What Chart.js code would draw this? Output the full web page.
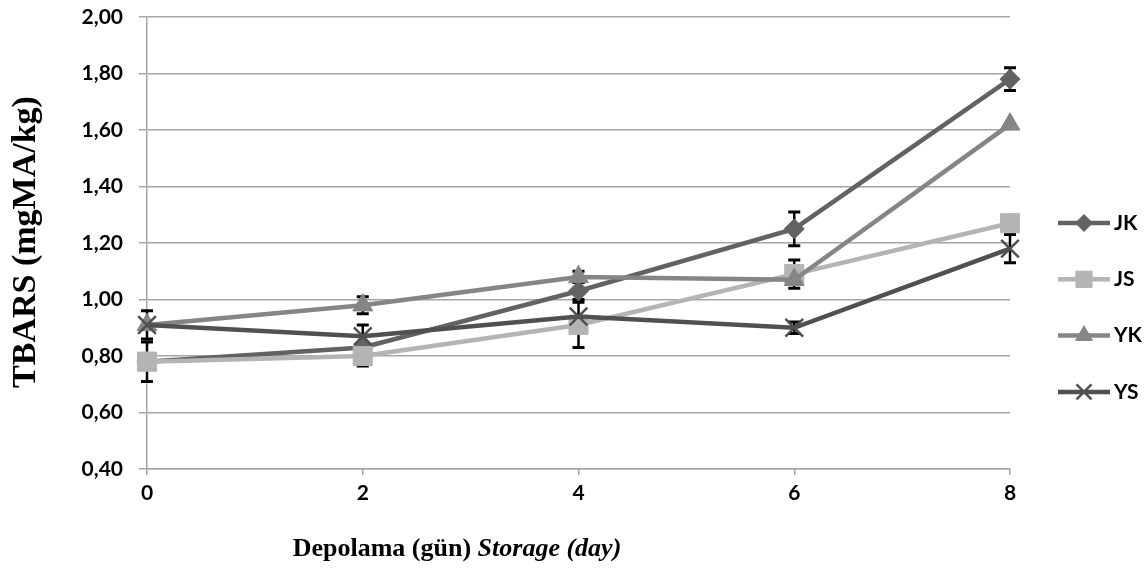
<!DOCTYPE html>
<html>
<head>
<meta charset="utf-8">
<script src="https://cdn.jsdelivr.net/npm/chart.js@4/dist/chart.umd.min.js"></script>
<style>
body { margin: 0; background: #fff; }
#wrap { width: 1148px; height: 568px; position: relative; }
</style>
</head>
<body>
<div id="wrap"><canvas id="grafik"></canvas></div>
<script>
// Depolama günleri
const days = ['0', '2', '4', '6', '8']

// TBARS (mgMA/kg)
const jk = [0.78, 0.83, 1.03, 1.25, 1.78]
const js = [0.78, 0.80, 0.91, 1.09, 1.27]
const yk = [0.91, 0.98, 1.08, 1.07, 1.62]
const ys = [0.91, 0.87, 0.94, 0.90, 1.18]

// hata çubukları (±)
const jkErr = [0.07, 0, 0.03, 0.06, 0.04]
const jsErr = [0, 0.035, 0.08, 0.05, 0]
const ykErr = [0, 0.03, 0.02, 0, 0]
const ysErr = [0.05, 0.04, 0, 0.02, 0.05]

const yMin = 0.4
const yMax = 2.0
const yStep = 0.2

const seriesNames = ['JK', 'JS', 'YK', 'YS']

Chart.defaults.font.family = 'Lato'
Chart.defaults.font.weight = 'bold'
Chart.defaults.color = '#000'

function serie(label, values, errors, color, style, radius, order) {
    return {
        label,
        data: values,
        errors,
        borderColor: color,
        backgroundColor: color,
        borderWidth: 4.5,
        pointStyle: style,
        pointRadius: radius,
        pointHoverRadius: radius,
        pointBackgroundColor: color,
        pointBorderColor: color,
        pointBorderWidth: style === 'crossRot' ? 2.5 : 1,
        tension: 0,
        order
    }
}

// hata çubukları
const errorBars = {
    id: 'errorBars',
    beforeDatasetsDraw(chart) {
        const ctx = chart.ctx
        const yScale = chart.scales.y
        ctx.save()
        ctx.strokeStyle = '#000'
        chart.data.datasets.forEach((ds, i) => {
            const meta = chart.getDatasetMeta(i)
            ds.data.forEach((v, j) => {
                const e = ds.errors[j]
                if (!e) return
                const x = meta.data[j].x
                const top = yScale.getPixelForValue(v + e)
                const bottom = yScale.getPixelForValue(v - e)
                ctx.lineWidth = 2.5
                ctx.beginPath()
                ctx.moveTo(x, top)
                ctx.lineTo(x, bottom)
                ctx.stroke()
                ctx.lineWidth = 3
                ctx.beginPath()
                ctx.moveTo(x - 6, top)
                ctx.lineTo(x + 6, top)
                ctx.moveTo(x - 6, bottom)
                ctx.lineTo(x + 6, bottom)
                ctx.stroke()
            })
        })
        ctx.restore()
    }
}

// eksen başlıkları
const axisTitles = {
    id: 'axisTitles',
    afterDraw(chart) {
        const ctx = chart.ctx
        ctx.save()
        ctx.fillStyle = '#000'
        ctx.textBaseline = 'alphabetic'

        ctx.save()
        ctx.translate(35, 242)
        ctx.rotate(-Math.PI / 2)
        ctx.textAlign = 'center'
        ctx.font = 'bold 34px "Liberation Serif"'
        ctx.fillText('TBARS (mgMA/kg)', 0, 0)
        ctx.restore()

        const part1 = 'Depolama (gün) '
        const part2 = 'Storage (day)'
        ctx.textAlign = 'left'
        ctx.font = 'bold 26px "Liberation Serif"'
        const w1 = ctx.measureText(part1).width
        ctx.font = 'italic bold 26px "Liberation Serif"'
        const w2 = ctx.measureText(part2).width
        const x0 = 457 - (w1 + w2) / 2
        ctx.font = 'bold 26px "Liberation Serif"'
        ctx.fillText(part1, x0, 556)
        ctx.font = 'italic bold 26px "Liberation Serif"'
        ctx.fillText(part2, x0 + w1, 556)
        ctx.restore()
    }
}

// sağdaki lejant
const seriesLegend = {
    id: 'seriesLegend',
    afterDraw(chart) {
        const ctx = chart.ctx
        const area = chart.chartArea
        ctx.save()
        chart.data.datasets.forEach((ds, i) => {
            const y = area.top + 206 + i * 56.3
            const x0 = area.right + 48
            const x1 = area.right + 100
            ctx.strokeStyle = ds.borderColor
            ctx.lineWidth = 4.5
            ctx.beginPath()
            ctx.moveTo(x0, y)
            ctx.lineTo(x1, y)
            ctx.stroke()
            ctx.fillStyle = ds.borderColor
            ctx.lineWidth = ds.pointBorderWidth
            Chart.helpers.drawPoint(ctx, {
                pointStyle: ds.pointStyle,
                radius: ds.pointRadius * 0.85,
                rotation: 0,
                borderWidth: ds.pointBorderWidth
            }, (x0 + x1) / 2, y)
            ctx.fillStyle = '#000'
            ctx.font = 'bold 21px Lato'
            ctx.textAlign = 'left'
            ctx.textBaseline = 'middle'
            ctx.fillText(ds.label, x1 + 4, y)
        })
        ctx.restore()
    }
}

const data = {
    labels: days,
    datasets: [
        serie(seriesNames[0], jk, jkErr, '#626262', 'rectRot', 10, 3),
        serie(seriesNames[1], js, jsErr, '#b4b4b4', 'rect', 13.5, 2),
        serie(seriesNames[2], yk, ykErr, '#858585', 'triangle', 11.5, 1),
        serie(seriesNames[3], ys, ysErr, '#505050', 'crossRot', 12.5, 0)
    ]
}

const config = {
    type: 'line',
    data,
    plugins: [errorBars, axisTitles, seriesLegend],
    options: {
        responsive: true,
        maintainAspectRatio: false,
        animation: false,
        layout: {
            padding: { left: 0, right: 138, top: 17, bottom: 0 }
        },
        plugins: {
            legend: { display: false },
            tooltip: { enabled: false }
        },
        scales: {
            x: {
                offset: false,
                afterFit: s => { s.height = 99 },
                grid: {
                    drawOnChartArea: false,
                    color: '#a6a6a6',
                    lineWidth: 1.5,
                    tickLength: 6
                },
                border: { color: '#a6a6a6', width: 1.5 },
                ticks: {
                    padding: 6,
                    font: { size: 21, weight: 'bold' },
                    maxRotation: 0
                }
            },
            y: {
                min: yMin,
                max: yMax,
                afterFit: s => {
                    s.width = 147
                    s.paddingTop = 12
                    s.paddingBottom = 12
                },
                grid: {
                    color: '#a6a6a6',
                    lineWidth: 1.5,
                    tickLength: 8
                },
                border: { color: '#a6a6a6', width: 1.5 },
                ticks: {
                    stepSize: yStep,
                    padding: 16,
                    font: { size: 21, weight: 'bold' },
                    callback: v => v.toFixed(2).replace('.', ',')
                }
            }
        }
    }
}

const graph = new Chart(document.getElementById('grafik'), config)
</script>
</body>
</html>
